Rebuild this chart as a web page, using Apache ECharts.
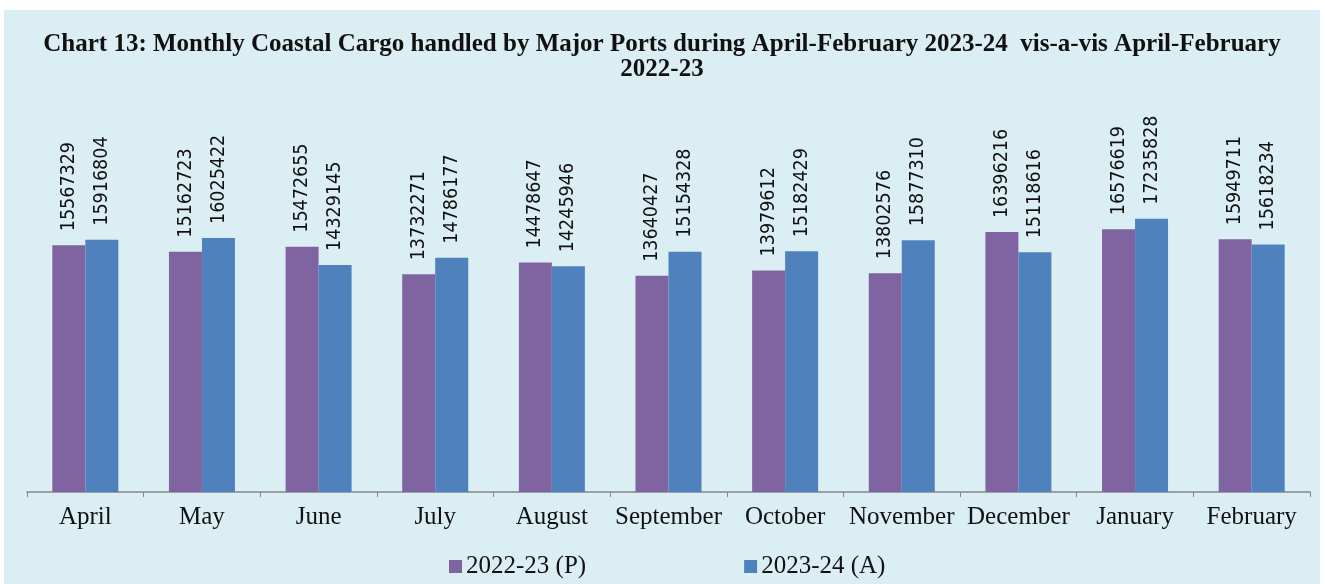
<!DOCTYPE html>
<html><head><meta charset="utf-8">
<script src="https://cdn.jsdelivr.net/npm/echarts@6/dist/echarts.min.js"></script>
<style>
html,body{margin:0;padding:0;background:#fff;}
#wrap{position:relative;width:1325px;height:584px;background:#fff;overflow:hidden;}
#c{position:absolute;left:4px;top:10px;width:1316px;height:574px;background:#DBEEF4;}
</style></head>
<body><div id="wrap"><div id="c"></div></div>
<script>
const categories = ['April','May','June','July','August','September','October','November','December','January','February'];
const series2223 = [15567329,15162723,15472655,13732271,14478647,13640427,13979612,13802576,16396216,16576619,15949711];
const series2324 = [15916804,16025422,14329145,14786177,14245946,15154328,15182429,15877310,15118616,17235828,15618234];
const seriesNames = ['2022-23 (P)','2023-24 (A)'];
const titleText = 'Chart 13: Monthly Coastal Cargo handled by Major Ports during April-February 2023-24  vis-a-vis April-February\n2022-23';

const chart = echarts.init(document.getElementById('c'));
const lbl = {
  show:true, position:'top', rotate:90, align:'left', verticalAlign:'middle', distance:14,
  fontFamily:'DejaVu Sans Condensed, sans-serif', fontSize:19.5, color:'#111'
};
chart.setOption({
  animation:false,
  title:{text:titleText,left:'center',top:17,
    textStyle:{fontFamily:'Liberation Serif',fontWeight:'bold',fontSize:25,color:'#111',lineHeight:25}},
  legend:{data:seriesNames,left:440,top:539,itemWidth:13,itemHeight:13,itemGap:158,
    icon:'rect',textStyle:{fontFamily:'Liberation Serif',fontSize:25,color:'#111',padding:[0,0,0,-1]}},
  grid:{left:23,right:10,top:165,bottom:92,containLabel:false},
  xAxis:{type:'category',data:categories,
    axisLine:{lineStyle:{color:'#868686',width:1.5}},
    axisTick:{show:true,length:5,lineStyle:{color:'#868686'}},
    axisLabel:{fontFamily:'Liberation Serif',fontSize:25,color:'#111',margin:13,interval:0,hideOverlap:false}},
  yAxis:{type:'value',min:0,max:20000000,show:false,splitLine:{show:false}},
  series:[
    {name:seriesNames[0],type:'bar',data:series2223,barWidth:33,barGap:'0%',
     itemStyle:{color:'#8064A2'},label:lbl},
    {name:seriesNames[1],type:'bar',data:series2324,barWidth:33,barGap:'0%',
     itemStyle:{color:'#4F81BD'},label:lbl}
  ]
});
</script></body></html>
